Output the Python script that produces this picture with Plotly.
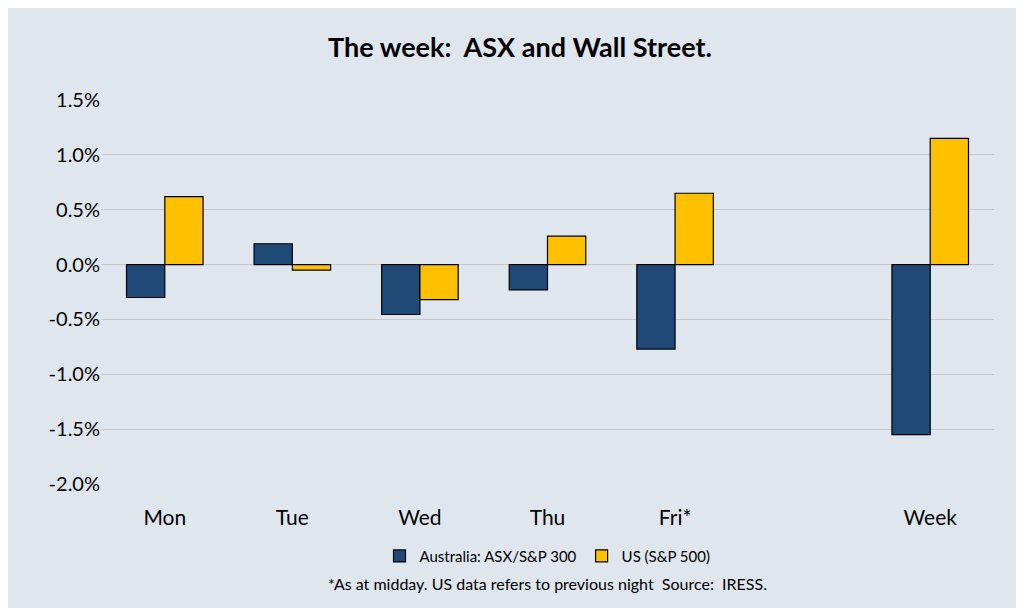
import plotly.graph_objects as go

categories = ["Mon", "Tue", "Wed", "Thu", "Fri*", " ", "Week"]
asx = [-0.30, 0.19, -0.455, -0.23, -0.77, None, -1.55]
us = [0.62, -0.05, -0.32, 0.26, 0.65, None, 1.15]
yticks = [1.5, 1.0, 0.5, 0.0, -0.5, -1.0, -1.5, -2.0]
ylabels = ["1.5%", "1.0%", "0.5%", "0.0%", "-0.5%", "-1.0%", "-1.5%", "-2.0%"]

bg = "#dfe6ee"
fig = go.Figure()
fig.add_bar(x=categories, y=asx, name="Australia: ASX/S&P 300",
            marker=dict(color="#1f4a78", line=dict(color="black", width=1.2)))
fig.add_bar(x=categories, y=us, name="US (S&P 500)",
            marker=dict(color="#ffc000", line=dict(color="black", width=1.2)))
fig.update_layout(
    width=1024, height=608, paper_bgcolor=bg, plot_bgcolor=bg,
    font=dict(family="Lato", size=20, color="black"),
    title=dict(text="<b>The week:  ASX and Wall Street.</b>", x=0.5, y=0.95,
               xanchor="center", yanchor="top", font=dict(size=27)),
    margin=dict(l=93, r=38, t=92, b=132, autoexpand=False),
    barmode="group", bargap=0.4, bargroupgap=0,
    showlegend=True,
    legend=dict(orientation="h", x=0.5, xanchor="center", y=-0.145, yanchor="top",
                font=dict(size=15), itemwidth=30),
    xaxis=dict(showgrid=False, showline=False, ticks="outside", ticklen=15,
               tickcolor="rgba(0,0,0,0)", tickfont=dict(size=21)),
    yaxis=dict(range=[-2.0, 1.5], tickvals=yticks, ticktext=ylabels,
               gridcolor="#c8c8c8", zeroline=True, zerolinecolor="#c8c8c8",
               zerolinewidth=1, tickfont=dict(size=20)),
)
fig.add_annotation(text="*As at midday. US data refers to previous night  Source:  IRESS.",
                   xref="paper", yref="paper", x=0.5, y=-0.26, xanchor="center",
                   yanchor="middle", showarrow=False, font=dict(size=16))
fig.write_html("out.html")
